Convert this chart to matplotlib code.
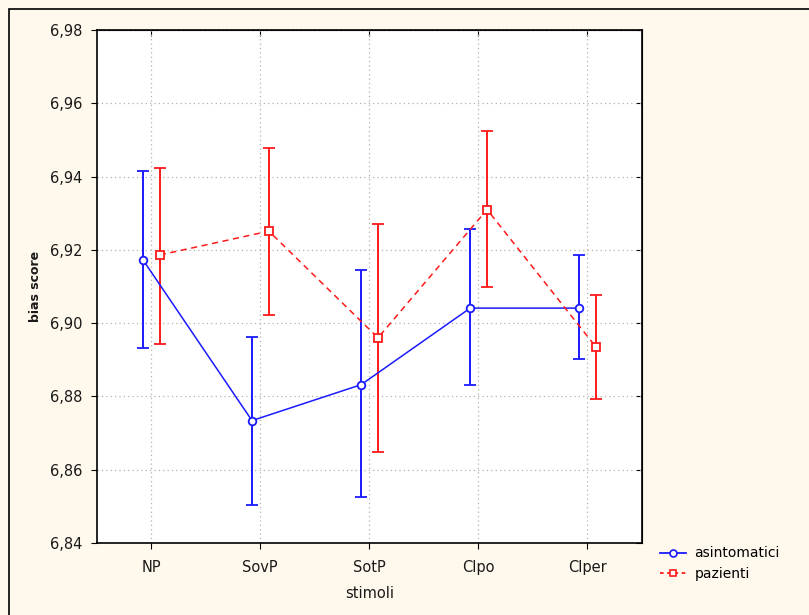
import matplotlib
matplotlib.use('Agg')
import matplotlib.pyplot as plt
from matplotlib.patches import Rectangle
from matplotlib.lines import Line2D
from matplotlib.ticker import FuncFormatter

plt.rcParams['font.family'] = ['DejaVu Sans']

categories = ['NP', 'SovP', 'SotP', 'Clpo', 'Clper']
asint_mean = [6.9173, 6.8734, 6.8832, 6.9041, 6.9041]
asint_low = [6.8931, 6.8505, 6.8526, 6.8830, 6.8903]
asint_high = [6.9415, 6.8963, 6.9144, 6.9257, 6.9185]
paz_mean = [6.9186, 6.9251, 6.8960, 6.9310, 6.8934]
paz_low = [6.8943, 6.9021, 6.8648, 6.9098, 6.8794]
paz_high = [6.9424, 6.9478, 6.9270, 6.9524, 6.9076]
yticks = [6.84, 6.86, 6.88, 6.90, 6.92, 6.94, 6.96, 6.98]

bg = '#fff8ec'
blue = '#1a1aff'
red = '#ff1a1a'
txt = '#1a1a1a'
red_ls = (0, (4, 3))

fig = plt.figure(figsize=(8.09, 6.15), dpi=100, facecolor=bg)
fig.patches.append(Rectangle((9 / 809, -0.1), 1.2, 1 - 9 / 615 + 0.1, transform=fig.transFigure,
                             fill=False, edgecolor='black', linewidth=1.2))
ax = fig.add_axes([0.1193, 0.1171, 0.6743, 0.8341])
ax.set_facecolor('white')

x = list(range(len(categories)))
xb = [i - 0.075 for i in x]
xr = [i + 0.08 for i in x]

ax.errorbar(xb, asint_mean,
            yerr=[[m - l for m, l in zip(asint_mean, asint_low)],
                  [h - m for m, h in zip(asint_mean, asint_high)]],
            color=blue, lw=1.1, elinewidth=1.4, capsize=4, capthick=1.4,
            marker='o', ms=5.5, mfc='white', mec=blue, mew=1.3, zorder=3)
ax.errorbar(xr, paz_mean,
            yerr=[[m - l for m, l in zip(paz_mean, paz_low)],
                  [h - m for m, h in zip(paz_mean, paz_high)]],
            color=red, lw=1.1, ls=red_ls, elinewidth=1.4, capsize=4, capthick=1.4,
            marker='s', ms=5.5, mfc='white', mec=red, mew=1.3, zorder=3)

ax.set_xlim(-0.5, 4.5)
ax.set_ylim(6.84, 6.98)
ax.set_xticks(x)
ax.set_xticklabels(categories, fontsize=10.5, color=txt)
ax.set_yticks(yticks)
ax.yaxis.set_major_formatter(FuncFormatter(lambda v, p: f'{v:.2f}'.replace('.', ',')))
ax.tick_params(axis='y', labelsize=10.5, labelcolor=txt, direction='out', length=4, pad=6)
ax.tick_params(axis='x', direction='out', length=4, pad=8)
ax.grid(True, color='#b0b0b0', ls=(0, (1, 2.5)), lw=0.9)
for s in ax.spines.values():
    s.set_linewidth(1.2)

# inward ticks on top and right
sec_r = ax.secondary_yaxis('right')
sec_r.set_yticks(yticks)
sec_r.tick_params(direction='in', length=4, labelright=False)
sec_t = ax.secondary_xaxis('top')
sec_t.set_xticks(x)
sec_t.tick_params(direction='in', length=4, labeltop=False)

ax.set_xlabel('stimoli', fontsize=10.5, color=txt, labelpad=8)
ax.set_ylabel('bias score', fontsize=9, color=txt, labelpad=6, fontweight='bold')

handles = [
    Line2D([], [], color=blue, lw=1.3, marker='o', ms=5, mfc='white', mec=blue, mew=1.2),
    Line2D([], [], color=red, lw=1.3, ls=(0, (2, 2)), marker='s', ms=5, mfc='white', mec=red, mew=1.2),
]
ax.legend(handles, ['asintomatici', 'pazienti'], loc='upper left', bbox_to_anchor=(1.022, 0.004),
          frameon=False, fontsize=10, handlelength=1.9, handletextpad=0.6, borderaxespad=0,
          labelspacing=0.45)

fig.savefig('out.png', dpi=100, facecolor=bg)
